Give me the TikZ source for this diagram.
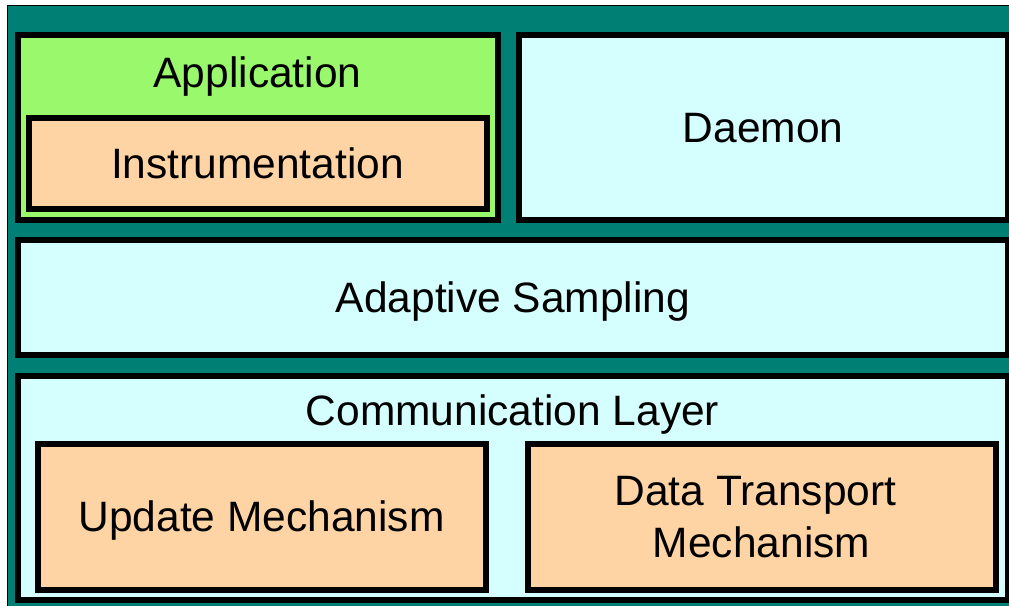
\documentclass[tikz,border=0pt]{standalone}
\usepackage{fontspec}
\setmainfont{Liberation Sans}
\definecolor{frameteal}{HTML}{008075}
\definecolor{appgreen}{HTML}{99F86C}
\definecolor{layercyan}{HTML}{D5FEFE}
\definecolor{partpeach}{HTML}{FFD4A5}
\tikzset{
  layerbox/.style={draw=black, line width=6pt, rectangle, inner sep=0pt, anchor=center},
  lbl/.style={inner sep=0pt, anchor=base, font=\fontsize{42.5}{50}\selectfont, text=black},
}
\begin{document}
\begin{tikzpicture}[x=1pt, y=-1pt]
  \useasboundingbox (0,0) rectangle (1009,605);
  \clip (0,0) rectangle (1009,605);
  % page background and outer frame
  \fill[white] (0,0) rectangle (1009,605);
  \draw[line width=1.5pt, fill=frameteal] (7.5,5.5) rectangle (1030,640);

  % top row
  \node[layerbox, fill=appgreen, minimum width=479.5pt, minimum height=185.5pt] (app) at (257.75,127.25) {};
  \node[layerbox, fill=partpeach, minimum width=458.5pt, minimum height=91pt] (instr) at (257.75,163.5) {};
  \node[layerbox, fill=layercyan, minimum width=489.5pt, minimum height=185.5pt] (daemon) at (763.25,127.25) {};

  % middle layer
  \node[layerbox, fill=layercyan, minimum width=990pt, minimum height=115pt] (adapt) at (513,297.5) {};

  % communication layer and its parts
  \node[layerbox, fill=layercyan, minimum width=990pt, minimum height=224.5pt] (comm) at (513,487.75) {};
  \node[layerbox, fill=partpeach, minimum width=448pt, minimum height=146pt] (update) at (261.5,517) {};
  \node[layerbox, fill=partpeach, minimum width=468.5pt, minimum height=146pt] (transport) at (761.75,517) {};

  % labels
  \node[lbl] (appl) at (257.5,87) {Application};
  \node[lbl] (instrl) at (257.5,178) {Instrumentation};
  \node[lbl] (daemonl) at (763,142) {Daemon};
  \node[lbl] (adaptl) at (513,312) {Adaptive Sampling};
  \node[lbl] (comml) at (512.5,425) {Communication Layer};
  \node[lbl] (updatel) at (261.5,531) {Update Mechanism};
  \node[lbl] (transportl) at (755.5,505) {Data Transport};
  \node[lbl] (transportm) at (761.5,557) {Mechanism};
\end{tikzpicture}
\end{document}
